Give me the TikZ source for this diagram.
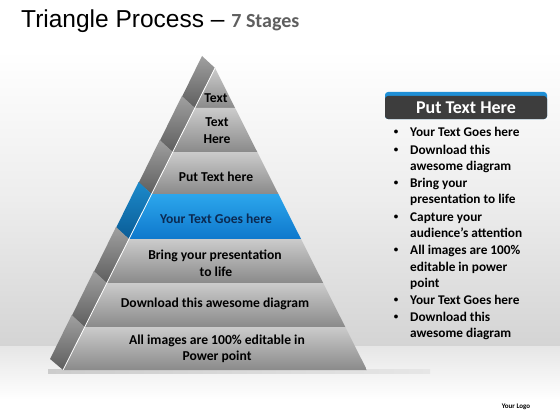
\documentclass[tikz,border=0pt]{standalone}
\usepackage{fontspec}
\setmainfont{Carlito}
\newfontfamily\arialf{Liberation Sans}
\definecolor{lt}{HTML}{CBCBCB}
\definecolor{lb}{HTML}{8A8A8A}
\definecolor{st}{HTML}{A0A0A0}
\definecolor{sb}{HTML}{5E5E5E}
\definecolor{bt}{HTML}{2CA6EC}
\definecolor{bb}{HTML}{0E78CC}
\definecolor{bst}{HTML}{1C8ACB}
\definecolor{bsb}{HTML}{0A5C96}
\definecolor{navy}{HTML}{0B2A52}
\definecolor{hdr}{HTML}{3D3D3D}
\definecolor{hdrblue}{HTML}{1F8FD6}
\definecolor{bgbot}{HTML}{D4D4D4}
\definecolor{floor}{HTML}{E6E6E6}
\definecolor{ttlgray}{HTML}{5F5F5F}
\begin{document}
\begin{tikzpicture}[x=1pt,y=-1pt,
  ptxt/.style={font=\fontsize{13.6}{15}\selectfont\bfseries, anchor=base, inner sep=0pt, text=black},
  btxt/.style={font=\fontsize{13.3}{16}\selectfont\bfseries, anchor=base west, inner sep=0pt, text=black},
  bdot/.style={font=\fontsize{9}{10}\selectfont\bfseries, anchor=base, inner sep=0pt, text=black}]
\useasboundingbox (0,0) rectangle (560,420);
% background
\fill[white] (0,0) rectangle (560,420);
\shade[top color=white, bottom color=bgbot, middle color=white!93!black] (0,50) rectangle (560,346);
\shade[top color=floor, bottom color=white] (0,346) rectangle (560,400);
\shade[left color=gray!40, right color=floor] (48,369) rectangle (430,373);
% title
\node[anchor=base west, inner sep=0pt] (title) at (21,28)
  {\arialf\fontsize{24.5}{26}\selectfont Triangle Process \textendash\ \fontspec{Carlito}\fontsize{20}{22}\selectfont\bfseries\color{ttlgray}7 Stages};
% pyramid
\foreach \yt/\yb/\ft/\fb/\sT/\sB in {68/108/lt/lb/st/sb, 108/152/lt/lb/st/sb, 152/194/lt/lb/st/sb, 194/239/bt/bb/bst/bsb, 239/283/lt/lb/st/sb, 283/327/lt/lb/st/sb, 327/370/lt/lb/st/sb}{
  \pgfmathsetmacro\wt{0.503*(\yt-68)}
  \pgfmathsetmacro\wb{0.503*(\yb-68)}
  \shade[top color=\sT, bottom color=\sB] (215-\wt,\yt) -- (215-\wb,\yb) -- (215-\wb-13,\yb-11) -- (215-\wt-13,\yt-12) -- cycle;
  \shade[top color=\ft, bottom color=\fb] (215-\wt,\yt) -- (215+\wt,\yt) -- (215+\wb,\yb) -- (215-\wb,\yb) -- cycle;
}
\draw[white, line width=0.8pt] (215,68) -- (63.1,370);
% pyramid texts
\node[ptxt] (p1) at (216,102.7) {Text};
\node[ptxt] (p2a) at (217,126) {Text};
\node[ptxt] (p2b) at (217,143.3) {Here};
\node[ptxt] (p3) at (216,181.7) {Put Text here};
\node[ptxt, text=navy] (p4) at (216,223.3) {Your Text Goes here};
\node[ptxt] (p5a) at (215,259.3) {Bring your presentation};
\node[ptxt] (p5b) at (216,276) {to life};
\node[ptxt] (p6) at (215,307.3) {Download this awesome diagram};
\node[ptxt] (p7a) at (217,344) {All images are 100\% editable in};
\node[ptxt] (p7b) at (217,360.7) {Power point};
% header
\fill[hdrblue, rounded corners=3pt] (385,92) rectangle (547,119);
\fill[hdr, rounded corners=3pt] (385,96) rectangle (547,119);
\node[font=\fontsize{18}{20}\selectfont\bfseries, text=white, inner sep=0pt] (hdrtxt) at (466,107.5) {Put Text Here};
% bullets
\foreach \n/\y in {1/136, 2/154.5, 3/187.5, 4/221.5, 5/254.5, 6/304.5, 7/321.5}{
  \node[bdot] (dot\n) at (396,\y-2) {\textbullet};
}
\node[btxt] (l1) at (410,136) {Your Text Goes here};
\node[btxt] (l2) at (410,154.5) {Download this};
\node[btxt] (l3) at (410,170.5) {awesome diagram};
\node[btxt] (l4) at (410,187.5) {Bring your};
\node[btxt] (l5) at (410,203.5) {presentation to life};
\node[btxt] (l6) at (410,221.5) {Capture your};
\node[btxt] (l7) at (410,237.5) {audience’s attention};
\node[btxt] (l8) at (410,254.5) {All images are 100\%};
\node[btxt] (l9) at (410,271.5) {editable in power};
\node[btxt] (l10) at (410,287.5) {point};
\node[btxt] (l11) at (410,304.5) {Your Text Goes here};
\node[btxt] (l12) at (410,321.5) {Download this};
\node[btxt] (l13) at (410,337.5) {awesome diagram};
% logo
\node[font=\fontsize{7}{8}\selectfont\bfseries, anchor=base, inner sep=0pt] (logo) at (516,408) {Your Logo};
\end{tikzpicture}
\end{document}
